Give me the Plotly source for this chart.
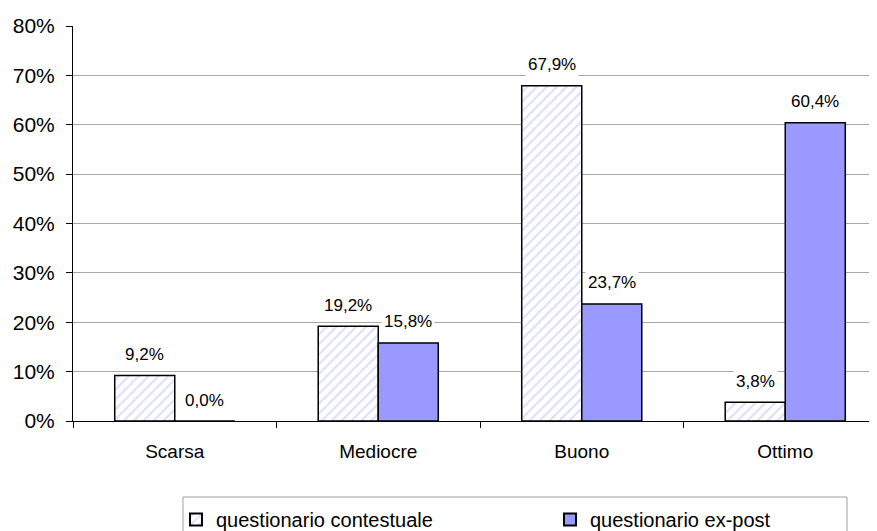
import plotly.graph_objects as go

categories = ["Scarsa", "Mediocre", "Buono", "Ottimo"]
contestuale = [0.092, 0.192, 0.679, 0.038]
ex_post = [0.0, 0.158, 0.237, 0.604]
series_names = ["questionario contestuale", "questionario ex-post"]
y_ticks = [0, 0.1, 0.2, 0.3, 0.4, 0.5, 0.6, 0.7, 0.8]
y_tick_labels = ["0%", "10%", "20%", "30%", "40%", "50%", "60%", "70%", "80%"]

FONT = "Liberation Sans, Arial, sans-serif"

# page body adds an 8px offset, so the figure is sized to fill the remaining window
W, H = 869, 523
ML, MT, MB = 65, 18, 110
PW = W - ML          # plot width (804)
PH = H - MT - MB     # plot height (395)

fig = go.Figure()
fig.add_trace(go.Bar(
    x=categories, y=contestuale, name=series_names[0],
    marker=dict(color="white", line=dict(color="black", width=1.5),
                pattern=dict(shape="/", fgcolor="#bcbcff", bgcolor="white",
                             size=7, solidity=0.3)),
))
fig.add_trace(go.Bar(
    x=categories, y=ex_post, name=series_names[1],
    marker=dict(color="#9999ff", line=dict(color="black", width=1.5)),
))


def fmt(v):
    return f"{v*100:.1f}%".replace(".", ",")


annotations = []
for vals, shift in ((contestuale, -30), (ex_post, 30)):
    for c, v in zip(categories, vals):
        annotations.append(dict(
            x=c, y=v, xref="x", yref="y", text=fmt(v), showarrow=False,
            xshift=shift, yshift=21, yanchor="middle", bgcolor="white",
            borderpad=2, font=dict(family=FONT, size=17, color="black"),
        ))

# legend frame (absolute page px -> paper coords)
def px_x(x):
    return (x - 8 - ML) / PW


def px_y(y):
    return -((y - 8) - (MT + PH)) / PH


fig.add_shape(type="rect", xref="paper", yref="paper",
              x0=px_x(183), x1=px_x(847), y0=px_y(497), y1=px_y(545),
              line=dict(color="#a0a0a0", width=1), fillcolor="rgba(0,0,0,0)",
              layer="above")

fig.update_layout(
    width=W, height=H,
    margin=dict(l=ML, r=0, t=MT, b=MB, autoexpand=False),
    paper_bgcolor="white", plot_bgcolor="white",
    barmode="group", bargap=0.41, bargroupgap=0,
    font=dict(family=FONT, size=19, color="black"),
    annotations=annotations,
    showlegend=True,
    legend=dict(
        orientation="h", x=px_x(176), xanchor="left",
        y=px_y(500), yanchor="top",
        borderwidth=0, bgcolor="rgba(0,0,0,0)",
        font=dict(family=FONT, size=20, color="black"),
        entrywidth=329, itemsizing="constant",
    ),
    xaxis=dict(
        range=[-0.5, -0.5 + PW / 203.5], showgrid=False,
        showline=True, linecolor="black", linewidth=1,
        ticks="outside", tickson="boundaries", ticklen=6, tickcolor="black",
        tickfont=dict(family=FONT, size=19), ticklabelstandoff=13,
        fixedrange=True,
    ),
    yaxis=dict(
        range=[0, 0.8], tickvals=y_ticks, ticktext=y_tick_labels,
        showgrid=True, gridcolor="#a8a8a8", gridwidth=1,
        showline=True, linecolor="black", linewidth=1,
        ticks="outside", ticklen=6, tickcolor="black",
        tickfont=dict(family=FONT, size=21), ticklabelstandoff=7,
        zeroline=False, fixedrange=True,
    ),
)

fig.write_html("out.html")
